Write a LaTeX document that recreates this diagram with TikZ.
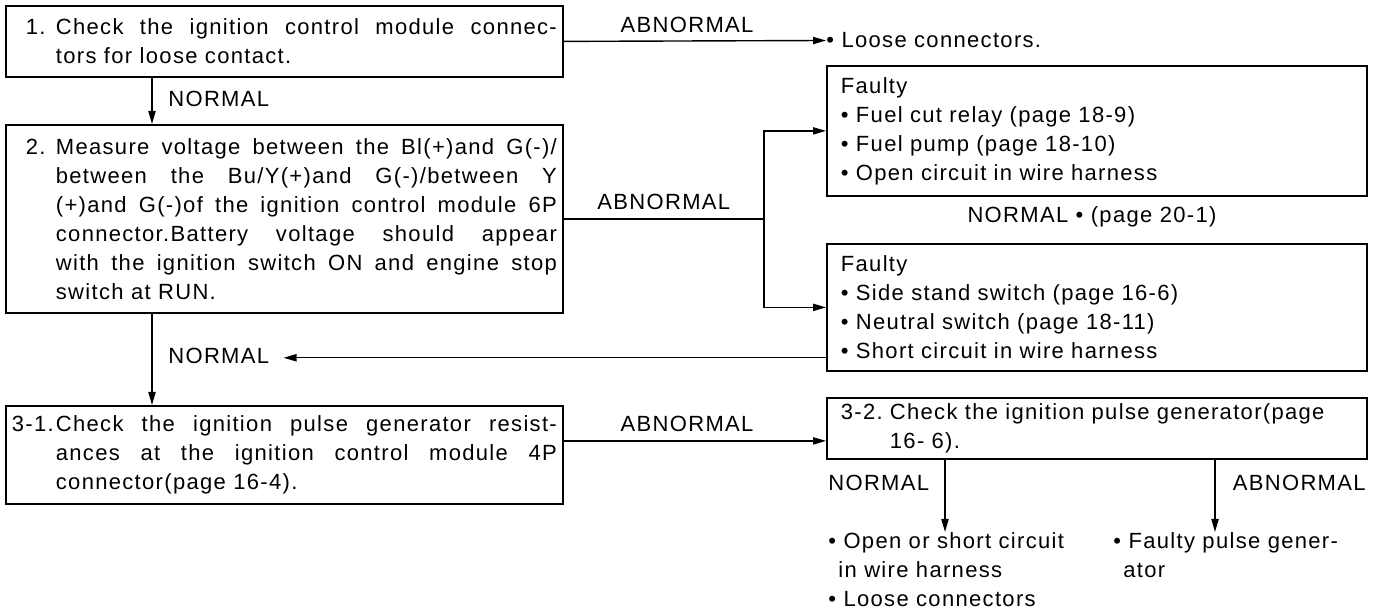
\documentclass[tikz,border=0pt]{standalone}
\usepackage{fontspec}
\setmainfont{Liberation Sans}
\newfontfamily\stepfont[LetterSpace=6]{Liberation Sans}
\usepackage{tikz}
\usetikzlibrary{arrows.meta, positioning}
\newcommand\stepno[2][22pt]{\hangindent=#1\hangafter1\noindent\makebox[#1][l]{#2}}

\begin{document}
\begin{tikzpicture}[x=0.5pt, y=-0.5pt,
			stepbox/.style={draw, line width=0.9pt, anchor=north west, text width=272.5pt, inner xsep=3pt, inner ysep=0pt, align=justify, font=\stepfont\fontsize{11}{14.5}\selectfont},
			faultbox/.style={draw, line width=0.9pt, anchor=north west, text width=256pt, inner xsep=7pt, inner ysep=0pt, align=left, font=\stepfont\fontsize{11}{14.5}\selectfont},
			lbl/.style={font=\stepfont\fontsize{11}{14.5}\selectfont, inner sep=1pt},
			note/.style={font=\stepfont\fontsize{11}{14.5}\selectfont, align=left, inner sep=0pt},
			arr/.style={-{Triangle[length=6.5pt,width=3.6pt]}, line width=0.7pt}]
			\useasboundingbox (0,0) rectangle (1379,613);
			\node[stepbox, minimum height=35.5pt] (chk1) at (5,5) {\stepno{\hspace{7pt}1.}Check the ignition control module connec-\linebreak tors for loose contact.\par};
			\node[stepbox, minimum height=94pt] (chk2) at (5,124) {\stepno{\hspace{7pt}2.}Measure voltage between the Bl(+)and G(-)/\linebreak between the Bu/Y(+)and G(-)/between Y\linebreak (+)and G(-)of the ignition control module 6P\linebreak connector.Battery voltage should appear\linebreak with the ignition switch ON and engine stop\linebreak switch at RUN.\par};
			\node[stepbox, minimum height=49pt] (chk3) at (5,405) {\stepno{3-1.}Check the ignition pulse generator resist-\linebreak ances at the ignition control module 4P\linebreak connector(page 16-4).\par};
			\node[note, anchor=west] (loose) at (826,40.5) {• Loose connectors.};
			\node[faultbox, minimum height=65pt] (fault1) at (826,65) {Faulty\\• Fuel cut relay (page 18-9)\\• Fuel pump (page 18-10)\\• Open circuit in wire harness};
			\node[note] (pg) at (1092,217) {NORMAL • (page 20-1)};
			\node[faultbox, minimum height=63.5pt] (fault2) at (826,243) {Faulty\\• Side stand switch (page 16-6)\\• Neutral switch (page 18-11)\\• Short circuit in wire harness};
			\node[faultbox, minimum height=30.5pt] (chk32) at (826,397) {\stepno[24.5pt]{3-2.}Check the ignition pulse generator(page\newline 16- 6).\par};
			\node[lbl, anchor=west] (n1) at (166,99) {NORMAL};
			\node[lbl, anchor=west] (nret) at (166,356) {NORMAL};
			\node[lbl, anchor=west] (n32) at (826,483) {NORMAL};
			\node[lbl, anchor=east] (ab32) at (1368,483) {ABNORMAL};
			\node[note, anchor=north west] (res1) at (828,532) {• Open or short circuit\\\hspace{5pt}in wire harness\\• Loose connectors};
			\node[note, anchor=north west] (res2) at (1113,532) {• Faulty pulse gener-\\\hspace{5pt}ator};
			\coordinate (br) at ([xshift=100pt]chk2.east);
			\coordinate (ret) at ([yshift=7pt]fault2.south west);
			\draw[arr] (chk1.east) -- node[lbl, above=3pt, pos=0.47] (ab1) {ABNORMAL} (loose.west);
			\draw[arr] ([xshift=73.5pt]chk1.south west) -- ([xshift=73.5pt]chk2.north west);
			\draw[line width=0.7pt] (chk2.east) -- node[lbl, above=3pt] (ab2) {ABNORMAL} (br);
			\draw[arr] (br) |- (fault1.west);
			\draw[arr] (br) |- (fault2.west);
			\draw[arr, shorten >=6pt] (ret) -- (ret -| nret.east);
			\draw[arr] ([xshift=73.5pt]chk2.south west) -- ([xshift=73.5pt]chk3.north west);
			\draw[arr] ([yshift=7pt]chk3.east) -- node[lbl, above=3pt, pos=0.47] (ab3) {ABNORMAL} ([yshift=7pt]chk3.east -| chk32.west);
			\draw[arr] ([xshift=59.5pt]chk32.south west) -- ([xshift=59.5pt]chk32.south west |- res1.north);
			\draw[arr] ([xshift=194.5pt]chk32.south west) -- ([xshift=194.5pt]chk32.south west |- res2.north);
		\end{tikzpicture}
\end{document}
